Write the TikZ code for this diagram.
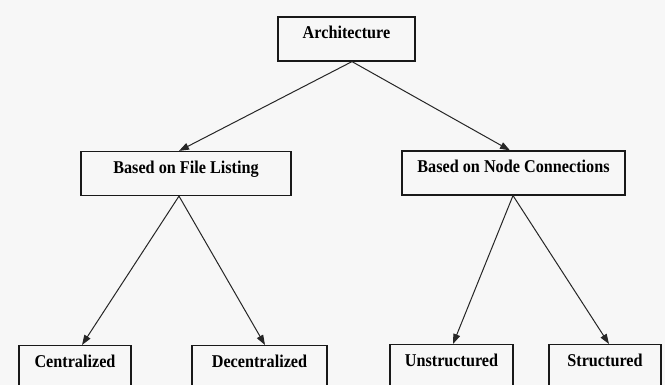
\documentclass[tikz,border=0pt]{standalone}
\usepackage{fontspec}
\setmainfont{Liberation Serif}[FakeStretch=0.9]
\usetikzlibrary{arrows.meta}
\begin{document}
\begin{tikzpicture}[x=1pt,y=-1pt,
  box/.style={draw=black!90, line width=1.2pt, rectangle, inner sep=0pt,
    text height=22pt, text depth=22pt,
    font=\fontsize{18}{20}\selectfont\bfseries},
  lowbox/.style={box, text depth=45pt},
  link/.style={draw=black!85, line width=1pt, -{Triangle[length=10pt,width=7pt]}}]
  \useasboundingbox (0,0) rectangle (665,385);
  \clip (0,0) rectangle (665,385);
  \fill[white!97!black] (0,0) rectangle (665,385);

  % top level
  \node[box, minimum width=137pt] (arch) at (346.5,39) {Architecture};

  % second level
  \node[box, minimum width=210pt] (file) at (186,173.5) {Based on File Listing};
  \node[box, minimum width=223pt] (conn) at (513.5,173) {Based on Node Connections};

  % leaves (run past the lower edge)
  \node[lowbox, minimum width=112pt, anchor=north] (cent) at (75,345) {Centralized};
  \node[lowbox, minimum width=135pt, anchor=north] (decent) at (259.5,345) {Decentralized};
  \node[lowbox, minimum width=123pt, anchor=north] (unstr) at (451.5,344) {Unstructured};
  \node[lowbox, minimum width=112pt, anchor=north] (str) at (605,344) {Structured};

  % connectors
  \draw[link] ([xshift=5.5pt]arch.south) -- ([xshift=-7pt]file.north);
  \draw[link] ([xshift=5.5pt]arch.south) -- ([xshift=-3.5pt]conn.north);
  \draw[link] ([xshift=-7pt]file.south) -- ([xshift=7pt]cent.north);
  \draw[link] ([xshift=-7pt]file.south) -- ([xshift=5.5pt]decent.north);
  \draw[link] ([xshift=-0.5pt]conn.south) -- ([xshift=1.5pt]unstr.north);
  \draw[link] ([xshift=-0.5pt]conn.south) -- ([xshift=4pt]str.north);
\end{tikzpicture}
\end{document}
